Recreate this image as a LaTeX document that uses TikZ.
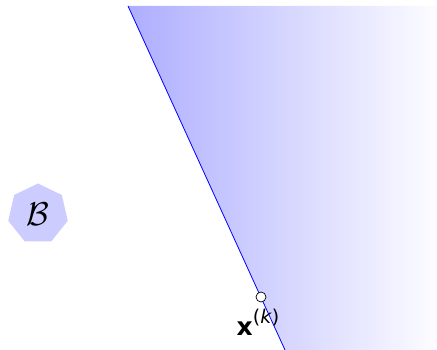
\documentclass[tikz,border=0pt]{standalone}
\usepackage{graphicx}
\usepackage{fontspec}
\setsansfont{DejaVu Sans}
\usetikzlibrary{shapes.geometric}
\begin{document}
\begin{tikzpicture}[x=1pt,y=-1pt,
  setbox/.style={regular polygon, regular polygon sides=7, fill=blue!20, draw=none, minimum size=61pt, inner sep=0pt},
  iterpt/.style={circle, draw=black, fill=white, minimum size=10pt, inner sep=0pt, line width=0.7pt},
  lbl/.style={font=\fontsize{25}{28}\selectfont\sffamily}]
\useasboundingbox (0,0) rectangle (437,350);
\coordinate (top) at (128,6);
\coordinate (bot) at (285,350);
\shade[left color=blue!32, right color=blue!1] (top) -- (437,6) -- (437,350) -- (bot) -- cycle;
\draw[blue, line width=0.8pt] (top) -- (bot);
\node[setbox] (B) at (38,214) {\scalebox{3.3}{$\mathcal{B}$}};
\node[iterpt] (xk) at (261,297) {};
\node[lbl, anchor=north] (lab) at (258,306) {\textbf{x}\raisebox{0.45em}{\fontsize{19}{22}\selectfont(\textit{k})}};
\end{tikzpicture}
\end{document}
